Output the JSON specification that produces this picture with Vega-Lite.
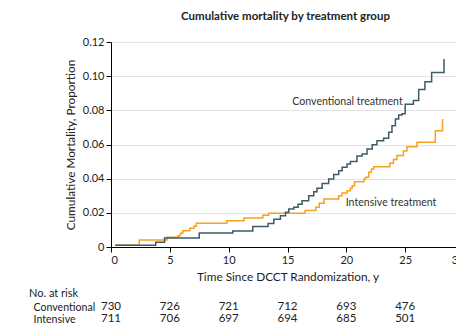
{
  "$schema": "https://vega.github.io/schema/vega-lite/v6.json",
  "padding": {"left": 29, "top": 10, "right": 0, "bottom": 0},
  "spacing": 5,
  "config": {
    "font": "Lato",
    "view": {"stroke": null},
    "axis": {"labelFont": "Lato", "titleFont": "Lato", "labelColor": "#222", "titleColor": "#222"}
  },
  "datasets": {
    "curves": [
      {"group": "Intensive", "t": 0.35, "p": 0.001},
      {"group": "Intensive", "t": 2.4, "p": 0.0041},
      {"group": "Intensive", "t": 4.75, "p": 0.0057},
      {"group": "Intensive", "t": 5.7, "p": 0.0066},
      {"group": "Intensive", "t": 5.9, "p": 0.008},
      {"group": "Intensive", "t": 6.1, "p": 0.0095},
      {"group": "Intensive", "t": 6.7, "p": 0.011},
      {"group": "Intensive", "t": 7.05, "p": 0.0121},
      {"group": "Intensive", "t": 7.25, "p": 0.0139},
      {"group": "Intensive", "t": 9.85, "p": 0.0154},
      {"group": "Intensive", "t": 11.3, "p": 0.017},
      {"group": "Intensive", "t": 12.9, "p": 0.0186},
      {"group": "Intensive", "t": 13.4, "p": 0.0198},
      {"group": "Intensive", "t": 16.5, "p": 0.0213},
      {"group": "Intensive", "t": 17.4, "p": 0.0232},
      {"group": "Intensive", "t": 17.7, "p": 0.0256},
      {"group": "Intensive", "t": 18.1, "p": 0.0281},
      {"group": "Intensive", "t": 19.35, "p": 0.03},
      {"group": "Intensive", "t": 19.64, "p": 0.0316},
      {"group": "Intensive", "t": 20.06, "p": 0.033},
      {"group": "Intensive", "t": 20.35, "p": 0.0345},
      {"group": "Intensive", "t": 20.5, "p": 0.0359},
      {"group": "Intensive", "t": 20.7, "p": 0.0382},
      {"group": "Intensive", "t": 21.5, "p": 0.0398},
      {"group": "Intensive", "t": 21.65, "p": 0.0408},
      {"group": "Intensive", "t": 21.9, "p": 0.0437},
      {"group": "Intensive", "t": 22.13, "p": 0.0457},
      {"group": "Intensive", "t": 22.33, "p": 0.047},
      {"group": "Intensive", "t": 23.7, "p": 0.049},
      {"group": "Intensive", "t": 24.0, "p": 0.0512},
      {"group": "Intensive", "t": 24.3, "p": 0.0535},
      {"group": "Intensive", "t": 24.85, "p": 0.0562},
      {"group": "Intensive", "t": 25.15, "p": 0.0587},
      {"group": "Intensive", "t": 26.0, "p": 0.0613},
      {"group": "Intensive", "t": 27.56, "p": 0.068},
      {"group": "Intensive", "t": 28.18, "p": 0.075},
      {"group": "Conventional", "t": 0.35, "p": 0.001},
      {"group": "Conventional", "t": 3.8, "p": 0.0028},
      {"group": "Conventional", "t": 4.55, "p": 0.0053},
      {"group": "Conventional", "t": 7.5, "p": 0.0082},
      {"group": "Conventional", "t": 10.35, "p": 0.0094},
      {"group": "Conventional", "t": 12.05, "p": 0.012},
      {"group": "Conventional", "t": 13.35, "p": 0.0138},
      {"group": "Conventional", "t": 13.84, "p": 0.0162},
      {"group": "Conventional", "t": 14.4, "p": 0.0183},
      {"group": "Conventional", "t": 14.83, "p": 0.0203},
      {"group": "Conventional", "t": 15.11, "p": 0.0222},
      {"group": "Conventional", "t": 15.53, "p": 0.0232},
      {"group": "Conventional", "t": 15.9, "p": 0.025},
      {"group": "Conventional", "t": 16.24, "p": 0.0271},
      {"group": "Conventional", "t": 16.8, "p": 0.03},
      {"group": "Conventional", "t": 17.23, "p": 0.0324},
      {"group": "Conventional", "t": 17.5, "p": 0.0344},
      {"group": "Conventional", "t": 17.94, "p": 0.0372},
      {"group": "Conventional", "t": 18.5, "p": 0.0398},
      {"group": "Conventional", "t": 18.93, "p": 0.0425},
      {"group": "Conventional", "t": 19.35, "p": 0.0447},
      {"group": "Conventional", "t": 19.64, "p": 0.0467},
      {"group": "Conventional", "t": 20.06, "p": 0.0486},
      {"group": "Conventional", "t": 20.35, "p": 0.05},
      {"group": "Conventional", "t": 20.9, "p": 0.0532},
      {"group": "Conventional", "t": 21.34, "p": 0.0544},
      {"group": "Conventional", "t": 21.76, "p": 0.0574},
      {"group": "Conventional", "t": 22.2, "p": 0.0598},
      {"group": "Conventional", "t": 22.6, "p": 0.0622},
      {"group": "Conventional", "t": 23.17, "p": 0.0636},
      {"group": "Conventional", "t": 23.6, "p": 0.0671},
      {"group": "Conventional", "t": 23.88, "p": 0.071},
      {"group": "Conventional", "t": 24.17, "p": 0.075},
      {"group": "Conventional", "t": 24.45, "p": 0.0773},
      {"group": "Conventional", "t": 24.73, "p": 0.078},
      {"group": "Conventional", "t": 25.0, "p": 0.0835},
      {"group": "Conventional", "t": 25.7, "p": 0.0857},
      {"group": "Conventional", "t": 26.15, "p": 0.0922},
      {"group": "Conventional", "t": 26.68, "p": 0.0968},
      {"group": "Conventional", "t": 27.25, "p": 0.1022},
      {"group": "Conventional", "t": 28.3, "p": 0.11}
    ],
    "labels": [
      {"label": "Conventional treatment", "t": 20.1, "p": 0.085},
      {"label": "Intensive treatment", "t": 23.8, "p": 0.0258}
    ],
    "risk": [
      {"group": "Conventional", "t": 0, "n": 730},
      {"group": "Conventional", "t": 5, "n": 726},
      {"group": "Conventional", "t": 10, "n": 721},
      {"group": "Conventional", "t": 15, "n": 712},
      {"group": "Conventional", "t": 20, "n": 693},
      {"group": "Conventional", "t": 25, "n": 476},
      {"group": "Intensive", "t": 0, "n": 711},
      {"group": "Intensive", "t": 5, "n": 706},
      {"group": "Intensive", "t": 10, "n": 697},
      {"group": "Intensive", "t": 15, "n": 694},
      {"group": "Intensive", "t": 20, "n": 685},
      {"group": "Intensive", "t": 25, "n": 501}
    ]
  },
  "vconcat": [
    {
      "width": 353,
      "height": 205,
      "title": {"text": "Cumulative mortality by treatment group", "fontSize": 11.5, "fontWeight": "bold", "color": "#222", "dx": -2, "offset": 14},
      "encoding": {
        "x": {"field": "t", "type": "quantitative", "scale": {"domain": [0, 30], "nice": false},
          "axis": {"title": "Time Since DCCT Randomization, y", "values": [0, 5, 10, 15, 20, 25, 30], "grid": false, "tickSize": 5, "tickColor": "#000", "domainColor": "#000", "labelFontSize": 11, "labelPadding": 2, "titleFontSize": 11.8, "titleFontWeight": "normal", "titlePadding": 6}},
        "y": {"field": "p", "type": "quantitative", "scale": {"domain": [0, 0.12], "nice": false},
          "axis": {"title": "Cumulative Mortality, Proportion", "values": [0, 0.02, 0.04, 0.06, 0.08, 0.1, 0.12], "labelOverlap": false, "labelExpr": "datum.value == 0 ? '0' : format(datum.value, '.2f')", "grid": true, "gridColor": "#e3e3e3", "tickSize": 5, "tickColor": "#000", "domainColor": "#000", "labelFontSize": 11, "labelPadding": 2, "titleFontSize": 11.8, "titleFontWeight": "normal", "titlePadding": 6}}
      },
      "layer": [
        {
          "data": {"name": "curves"},
          "transform": [{"filter": "datum.group == 'Intensive'"}],
          "mark": {"type": "line", "interpolate": "step-after", "strokeWidth": 1.5},
          "encoding": {
            "color": {"field": "group", "type": "nominal", "scale": {"domain": ["Conventional", "Intensive"], "range": ["#3e5b66", "#f5a11c"]}, "legend": null}
          }
        },
        {
          "data": {"name": "curves"},
          "transform": [{"filter": "datum.group == 'Conventional'"}],
          "mark": {"type": "line", "interpolate": "step-after", "strokeWidth": 1.5},
          "encoding": {
            "color": {"field": "group", "type": "nominal", "legend": null}
          }
        },
        {
          "data": {"name": "labels"},
          "mark": {"type": "text", "fontSize": 10.6, "color": "#333"},
          "encoding": {
            "text": {"field": "label"}
          }
        }
      ]
    },
    {
      "width": 353,
      "height": 24,
      "title": {"text": "No. at risk", "anchor": "start", "dx": -4, "fontSize": 11, "fontWeight": "normal", "color": "#222", "offset": 2},
      "data": {"name": "risk"},
      "mark": {"type": "text", "fontSize": 11.5, "color": "#222"},
      "encoding": {
        "x": {"field": "t", "type": "quantitative", "scale": {"domain": [0, 30], "nice": false}, "axis": null},
        "y": {"field": "group", "type": "nominal", "sort": ["Conventional", "Intensive"],
          "axis": {"title": null, "domain": false, "ticks": false, "tickSize": 0, "labelAlign": "left", "labelPadding": 78, "labelFontSize": 10.6, "labelColor": "#222"}},
        "text": {"field": "n", "type": "quantitative"}
      }
    }
  ]
}
